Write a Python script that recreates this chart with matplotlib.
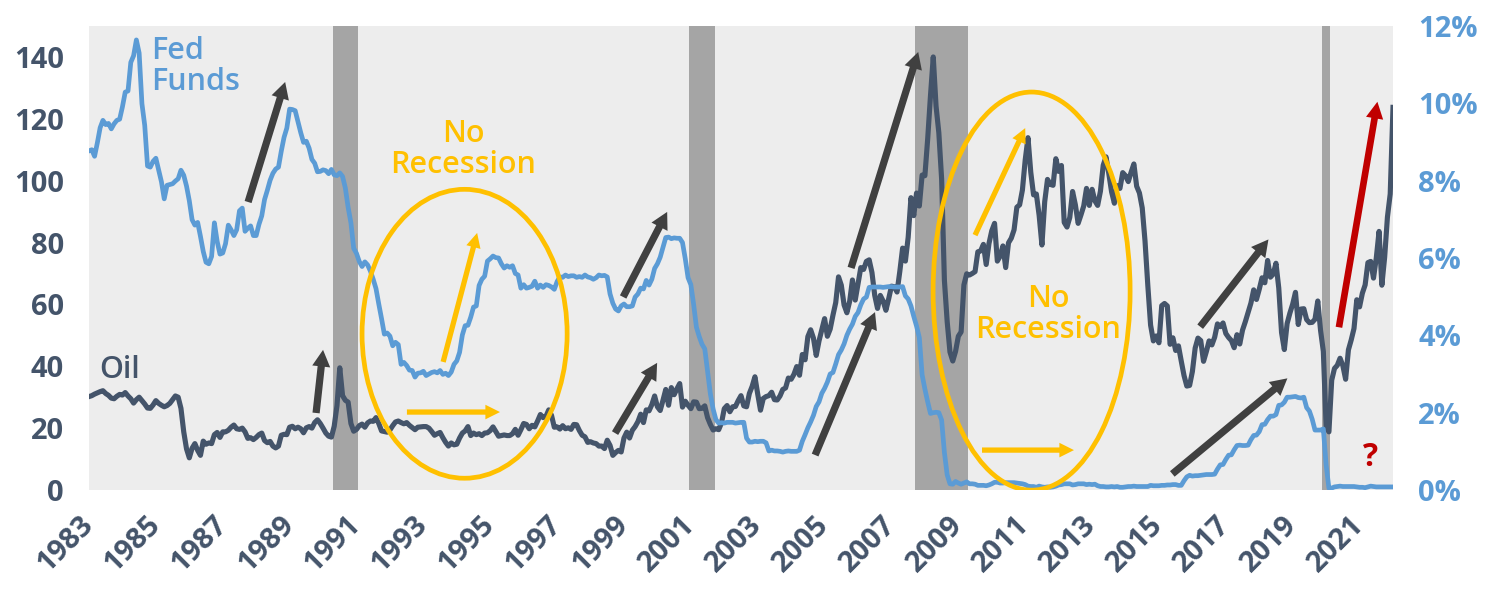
import numpy as np
import matplotlib
matplotlib.use("Agg")
import matplotlib.pyplot as plt
import pandas as pd
from matplotlib.patches import Ellipse

plt.rcParams['font.family'] = ['Open Sans', 'DejaVu Sans']

# month-end WTI oil price ($), Mar 1983 .. Mar 2022 (last point is early March)
oil = [
    30.2, 30.5, 31.0, 31.4, 31.8, 32.1, 31.2, 30.6, 29.7, 29.5,              # 1983
    30.3, 30.9, 30.7, 31.5, 30.4, 29.5, 28.1, 29.2, 30.0, 28.9, 27.8, 26.5,  # 1984
    26.4, 27.5, 28.9, 28.0, 27.4, 26.9, 27.3, 28.0, 29.2, 30.4, 30.0, 26.4,  # 1985
    18.8, 13.3, 10.4, 13.5, 15.0, 12.8, 11.2, 15.8, 14.8, 15.2, 15.0, 17.9,  # 1986
    18.6, 17.0, 18.8, 18.8, 19.3, 20.3, 21.0, 19.8, 19.6, 20.0, 18.8, 16.7,  # 1987
    16.9, 16.3, 17.0, 17.9, 18.4, 16.0, 15.3, 15.7, 14.2, 13.6, 14.2, 17.7,  # 1988
    18.0, 17.9, 20.3, 20.6, 19.8, 20.3, 19.8, 18.5, 20.1, 20.5, 20.0, 21.8,  # 1989
    22.7, 21.5, 20.0, 18.4, 17.4, 17.1, 20.6, 27.3, 39.5, 30.5, 29.0, 28.4,  # 1990
    21.5, 19.0, 19.6, 20.8, 21.3, 20.3, 21.7, 22.3, 22.2, 23.4, 21.5, 19.1,  # 1991
    18.9, 18.7, 19.4, 20.8, 22.0, 22.3, 21.8, 21.4, 21.8, 20.9, 20.2, 19.5,  # 1992
    20.3, 20.4, 20.5, 20.5, 20.0, 18.9, 17.7, 18.2, 18.6, 16.9, 15.4, 14.2,  # 1993
    15.2, 14.6, 14.8, 16.8, 18.4, 19.1, 20.5, 17.6, 18.4, 17.9, 18.2, 17.6,  # 1994
    18.4, 18.5, 19.2, 20.4, 18.9, 17.4, 17.6, 17.8, 17.6, 17.6, 18.2, 19.6,  # 1995
    17.7, 19.5, 21.5, 21.2, 19.8, 20.9, 20.4, 22.3, 24.4, 23.4, 23.8, 25.9,  # 1996
    24.1, 20.3, 20.4, 19.7, 20.8, 19.8, 20.1, 19.6, 21.2, 21.1, 19.2, 17.7,  # 1997
    17.2, 15.4, 15.6, 15.2, 15.0, 14.2, 14.2, 13.4, 16.1, 14.4, 11.2, 12.1,  # 1998
    12.8, 12.3, 16.8, 18.7, 16.8, 19.3, 20.5, 22.1, 24.5, 21.8, 25.9, 25.6,  # 1999
    27.6, 30.4, 26.9, 25.7, 29.0, 32.5, 27.4, 33.1, 30.8, 32.7, 34.4, 26.8,  # 2000
    28.7, 27.4, 26.3, 28.5, 28.4, 26.3, 26.4, 27.2, 23.4, 21.2, 19.4, 19.8,  # 2001
    19.5, 21.7, 26.3, 27.3, 25.3, 26.9, 27.0, 28.9, 30.5, 27.2, 26.9, 31.2,  # 2002
    33.5, 36.6, 31.0, 25.8, 29.6, 30.2, 30.5, 31.6, 29.2, 29.1, 30.4, 32.5,  # 2003
    33.0, 36.2, 35.8, 37.4, 39.9, 37.1, 43.8, 42.1, 49.6, 51.8, 49.1, 43.5,  # 2004
    48.2, 51.8, 55.4, 49.7, 52.0, 56.5, 60.6, 68.9, 66.2, 59.8, 57.3, 61.0,  # 2005
    67.9, 61.4, 66.6, 71.9, 71.3, 73.9, 74.4, 70.3, 62.9, 58.7, 62.9, 61.1,  # 2006
    58.1, 61.8, 65.9, 65.7, 64.0, 70.7, 78.2, 74.0, 81.7, 94.5, 88.7, 96.0,  # 2007
    91.8, 101.8, 101.6, 113.5, 127.4, 140.0, 124.1, 115.5, 100.6, 67.8, 54.4, 44.6,  # 2008
    41.7, 44.8, 49.7, 51.1, 66.3, 69.9, 69.5, 70.0, 70.6, 77.0, 77.3, 79.4,  # 2009
    72.9, 79.7, 83.8, 86.2, 74.0, 75.6, 78.9, 71.9, 79.9, 81.4, 84.1, 91.4,  # 2010
    92.2, 97.0, 106.7, 113.9, 102.7, 95.4, 95.7, 88.8, 79.2, 93.2, 100.4, 98.8,  # 2011
    98.5, 107.1, 103.0, 104.9, 86.5, 85.0, 88.1, 96.5, 92.2, 86.2, 88.9, 91.8,  # 2012
    97.5, 92.0, 97.2, 93.5, 92.0, 96.6, 105.0, 107.7, 102.3, 96.4, 92.7, 98.4,  # 2013
    97.5, 102.6, 101.6, 99.7, 102.7, 105.4, 98.2, 96.0, 91.2, 80.5, 66.2, 53.3,  # 2014
    48.2, 49.8, 47.6, 59.6, 60.3, 59.5, 47.1, 49.2, 45.1, 46.6, 41.7, 37.0,  # 2015
    33.6, 33.8, 38.3, 45.9, 49.1, 48.3, 41.6, 44.7, 48.2, 46.9, 49.4, 53.7,  # 2016
    52.8, 54.0, 50.6, 49.3, 48.3, 46.0, 50.2, 47.2, 51.7, 54.4, 57.4, 60.4,  # 2017
    64.7, 61.6, 64.9, 68.6, 67.0, 74.2, 68.8, 69.8, 73.3, 65.3, 50.9, 45.4,  # 2018
    53.8, 57.2, 60.1, 63.9, 53.5, 58.5, 58.6, 55.1, 54.1, 54.2, 55.2, 61.1,  # 2019
    51.6, 44.8, 20.5, 18.8, 35.5, 39.3, 40.3, 42.6, 40.2, 35.8, 45.3, 48.5,  # 2020
    52.2, 61.5, 59.2, 63.6, 66.3, 73.5, 73.9, 68.5, 75.0, 83.6, 66.2, 75.2,  # 2021
    88.2, 95.7, 123.7,                                                        # 2022
]

# effective fed funds rate (%), monthly, Mar 1983 .. Mar 2022
fed_funds = [
    8.77, 8.80, 8.63, 8.98, 9.37, 9.56, 9.45, 9.48, 9.34, 9.47,
    9.56, 9.59, 9.91, 10.29, 10.32, 11.06, 11.23, 11.64, 11.30, 9.99, 9.43, 8.38,
    8.35, 8.50, 8.58, 8.27, 7.97, 7.53, 7.88, 7.90, 7.92, 7.99, 8.05, 8.27,
    8.14, 7.86, 7.48, 6.99, 6.85, 6.92, 6.56, 6.17, 5.89, 5.85, 6.04, 6.91,
    6.43, 6.10, 6.13, 6.37, 6.85, 6.73, 6.58, 6.73, 7.22, 7.29, 6.69, 6.77,
    6.83, 6.58, 6.58, 6.87, 7.09, 7.51, 7.75, 8.01, 8.19, 8.30, 8.35, 8.76,
    9.12, 9.36, 9.85, 9.84, 9.81, 9.53, 9.24, 8.99, 9.02, 8.84, 8.55, 8.45,
    8.23, 8.24, 8.28, 8.26, 8.18, 8.29, 8.15, 8.13, 8.20, 8.11, 7.81, 7.31,
    6.91, 6.25, 6.12, 5.91, 5.78, 5.90, 5.82, 5.66, 5.45, 5.21, 4.81, 4.43,
    4.03, 4.06, 3.98, 3.73, 3.82, 3.76, 3.25, 3.30, 3.22, 3.10, 3.09, 2.92,
    3.02, 3.03, 3.07, 2.96, 3.00, 3.04, 3.06, 3.03, 3.09, 2.99, 3.02, 2.96,
    3.05, 3.25, 3.34, 3.56, 4.01, 4.25, 4.26, 4.47, 4.73, 4.76, 5.29, 5.45,
    5.53, 5.92, 5.98, 6.05, 6.01, 6.00, 5.85, 5.74, 5.80, 5.76, 5.80, 5.60,
    5.56, 5.22, 5.31, 5.22, 5.24, 5.27, 5.40, 5.22, 5.30, 5.24, 5.31, 5.29,
    5.25, 5.19, 5.39, 5.51, 5.50, 5.56, 5.52, 5.54, 5.54, 5.50, 5.52, 5.50,
    5.56, 5.51, 5.49, 5.45, 5.49, 5.56, 5.54, 5.55, 5.51, 5.07, 4.83, 4.68,
    4.63, 4.76, 4.81, 4.74, 4.74, 4.76, 4.99, 5.07, 5.22, 5.20, 5.42, 5.30,
    5.45, 5.73, 5.85, 6.02, 6.27, 6.53, 6.54, 6.50, 6.52, 6.51, 6.51, 6.40,
    5.98, 5.49, 5.31, 4.80, 4.21, 3.97, 3.77, 3.65, 3.07, 2.49, 2.09, 1.82,
    1.73, 1.74, 1.73, 1.75, 1.75, 1.75, 1.73, 1.74, 1.75, 1.75, 1.34, 1.24,
    1.24, 1.26, 1.25, 1.26, 1.26, 1.22, 1.01, 1.03, 1.01, 1.01, 1.00, 0.98,
    1.00, 1.01, 1.00, 1.00, 1.00, 1.03, 1.26, 1.43, 1.61, 1.76, 1.93, 2.16,
    2.28, 2.50, 2.63, 2.79, 3.00, 3.04, 3.26, 3.50, 3.62, 3.78, 4.00, 4.16,
    4.29, 4.49, 4.59, 4.79, 4.94, 4.99, 5.24, 5.25, 5.25, 5.25, 5.25, 5.24,
    5.25, 5.26, 5.26, 5.25, 5.25, 5.25, 5.26, 5.02, 4.94, 4.76, 4.49, 4.24,
    3.94, 2.98, 2.61, 2.28, 1.98, 2.00, 2.01, 2.00, 1.81, 0.97, 0.39, 0.16,
    0.15, 0.22, 0.18, 0.15, 0.18, 0.21, 0.16, 0.16, 0.15, 0.12, 0.12, 0.12,
    0.11, 0.13, 0.16, 0.20, 0.20, 0.18, 0.18, 0.19, 0.19, 0.19, 0.19, 0.18,
    0.17, 0.16, 0.14, 0.10, 0.09, 0.09, 0.07, 0.10, 0.08, 0.07, 0.08, 0.07,
    0.08, 0.10, 0.13, 0.14, 0.16, 0.16, 0.16, 0.13, 0.14, 0.16, 0.16, 0.16,
    0.14, 0.15, 0.14, 0.15, 0.11, 0.09, 0.09, 0.08, 0.08, 0.09, 0.08, 0.09,
    0.07, 0.07, 0.08, 0.09, 0.09, 0.10, 0.09, 0.09, 0.09, 0.09, 0.09, 0.12,
    0.11, 0.11, 0.11, 0.12, 0.12, 0.13, 0.13, 0.14, 0.14, 0.12, 0.12, 0.24,
    0.34, 0.38, 0.36, 0.37, 0.37, 0.38, 0.39, 0.40, 0.40, 0.40, 0.41, 0.54,
    0.65, 0.66, 0.79, 0.90, 0.91, 1.04, 1.15, 1.16, 1.15, 1.15, 1.16, 1.30,
    1.41, 1.42, 1.51, 1.69, 1.70, 1.82, 1.91, 1.91, 1.95, 2.19, 2.20, 2.27,
    2.40, 2.40, 2.41, 2.42, 2.39, 2.38, 2.40, 2.13, 2.04, 1.83, 1.55, 1.55,
    1.55, 1.58, 0.65, 0.05, 0.05, 0.08, 0.09, 0.10, 0.09, 0.09, 0.09, 0.09,
    0.09, 0.08, 0.07, 0.07, 0.06, 0.08, 0.10, 0.09, 0.08, 0.08, 0.08, 0.08,
    0.08, 0.08, 0.08,
]

months = pd.period_range('1983-03', '2022-03', freq='M')

# NBER recessions (peak month, trough month)
recessions = [('1990-07', '1991-03'), ('2001-03', '2001-11'),
              ('2007-12', '2009-06'), ('2020-02', '2020-04')]

# annotation arrows: (tail idx, tail oil), (tip idx, tip oil), colour
arrows = [
    ((57.1, 93.1), (70.4, 131.9), 'dark'),
    ((81.5, 24.9), (84.0, 45.3), 'dark'),
    ((127.1, 41.4), (139.3, 83.1), 'gold'),
    ((114.1, 25.2), (147.5, 25.2), 'gold'),
    ((191.7, 62.4), (207.5, 89.9), 'dark'),
    ((188.8, 18.4), (203.9, 41.1), 'dark'),
    ((273.5, 71.8), (297.6, 141.6), 'dark'),
    ((260.6, 11.3), (282.1, 57.5), 'dark'),
    ((318.0, 82.4), (336.0, 117.0), 'gold'),
    ((320.5, 12.9), (353.5, 12.9), 'gold'),
    ((398.8, 52.8), (423.3, 81.0), 'dark'),
    ((388.8, 5.2), (430.1, 36.1), 'dark'),
    ((448.6, 52.6), (462.4, 125.5), 'red'),
]

# "No Recession" ellipses: centre (idx, oil), width (months), height (oil $)
ellipses = [((134.8, 50.5), 73.6, 93.4), ((338.3, 64.3), 70.7, 128.7)]

NAVY = '#44546A'
BLUE = '#5B9BD5'
GOLD = '#FFC000'
COLORS = {'dark': '#404040', 'gold': GOLD, 'red': '#C00000'}

x = np.arange(len(months))

fig = plt.figure(figsize=(14.89, 6), dpi=100, facecolor='w')
ax = fig.add_axes([89 / 1489, 110 / 600, 1304 / 1489, 464 / 600])
ax.set_facecolor('#EDEDED')
ax2 = ax.twinx()

for start, end in recessions:
    s = months.get_loc(pd.Period(start, 'M'))
    e = months.get_loc(pd.Period(end, 'M'))
    ax.axvspan(s - 0.5, e + 0.5, color='#A5A5A5', lw=0, zorder=1)

ax.plot(x, oil, color=NAVY, lw=3.7, zorder=3, solid_joinstyle='round')
ax2.plot(x, fed_funds, color=BLUE, lw=3.4, zorder=3, solid_joinstyle='round')

ax.set_xlim(0, len(months) - 1)
ax.set_ylim(0, 150)
ax2.set_ylim(0, 12)

for a in (ax, ax2):
    for sp in a.spines.values():
        sp.set_visible(False)

# x ticks every two years, starting at the first month
tick_idx = [i for i, m in enumerate(months) if m.month == 3 and m.year % 2 == 1 and m.year < 2022]
ax.set_xticks(tick_idx)
ax.set_xticklabels([str(months[i].year) for i in tick_idx], rotation=45, ha='right',
                   va='center', rotation_mode='anchor', fontsize=21, fontweight='bold', color=NAVY)
ax.tick_params(axis='x', length=0, pad=22)

ax.set_yticks(np.arange(0, 141, 20))
ax.set_yticklabels([str(v) for v in range(0, 141, 20)], fontsize=21, fontweight='bold', color=NAVY)
ax.tick_params(axis='y', length=0, pad=18)

ax2.set_yticks(np.arange(0, 13, 2))
ax2.set_yticklabels([f'{v}%' for v in range(0, 13, 2)], fontsize=21, fontweight='bold', color=BLUE)
ax2.tick_params(axis='y', length=0, pad=18)

# ellipses and arrows on top of both lines, placed in oil-axis coordinates
for (cx, cy), w, h in ellipses:
    ax2.add_patch(Ellipse((cx, cy), w, h, transform=ax.transData, fill=False,
                          ec=GOLD, lw=3.4, zorder=5))

for tail, tip, c in arrows:
    if c == 'gold':
        style = 'simple,head_length=1.05,head_width=1.05,tail_width=0.38'
    elif c == 'red':
        style = 'simple,head_length=1.2,head_width=1.25,tail_width=0.48'
    else:
        style = 'simple,head_length=1.2,head_width=1.3,tail_width=0.52'
    ax2.annotate('', xy=tip, xycoords=ax.transData, xytext=tail, textcoords=ax.transData,
                 arrowprops=dict(arrowstyle=style, mutation_scale=10, fc=COLORS[c],
                                 ec='none', shrinkA=0, shrinkB=0), zorder=6)

# text labels
ax2.text(151 / 1489, 1 - 36 / 600, 'Fed\nFunds', transform=fig.transFigure, color=BLUE,
         fontsize=22, fontweight='semibold', va='top', ha='left', linespacing=1.05, zorder=7)
ax2.text(99 / 1489, 1 - 355 / 600, 'Oil', transform=fig.transFigure, color=NAVY,
         fontsize=22, fontweight='semibold', va='top', ha='left', zorder=7)
ax2.text(463 / 1489, 1 - 119 / 600, 'No\nRecession', transform=fig.transFigure, color=GOLD,
         fontsize=22, fontweight='semibold', va='top', ha='center', linespacing=1.05, zorder=7)
ax2.text(1048 / 1489, 1 - 284 / 600, 'No\nRecession', transform=fig.transFigure, color=GOLD,
         fontsize=22, fontweight='semibold', va='top', ha='center', linespacing=1.05, zorder=7)
ax2.text(1371 / 1489, 1 - 457 / 600, '?', transform=fig.transFigure, color='#C00000',
         fontsize=23, fontweight='bold', va='center', ha='center', zorder=7)

fig.savefig('out.png', dpi=100, facecolor='w')
